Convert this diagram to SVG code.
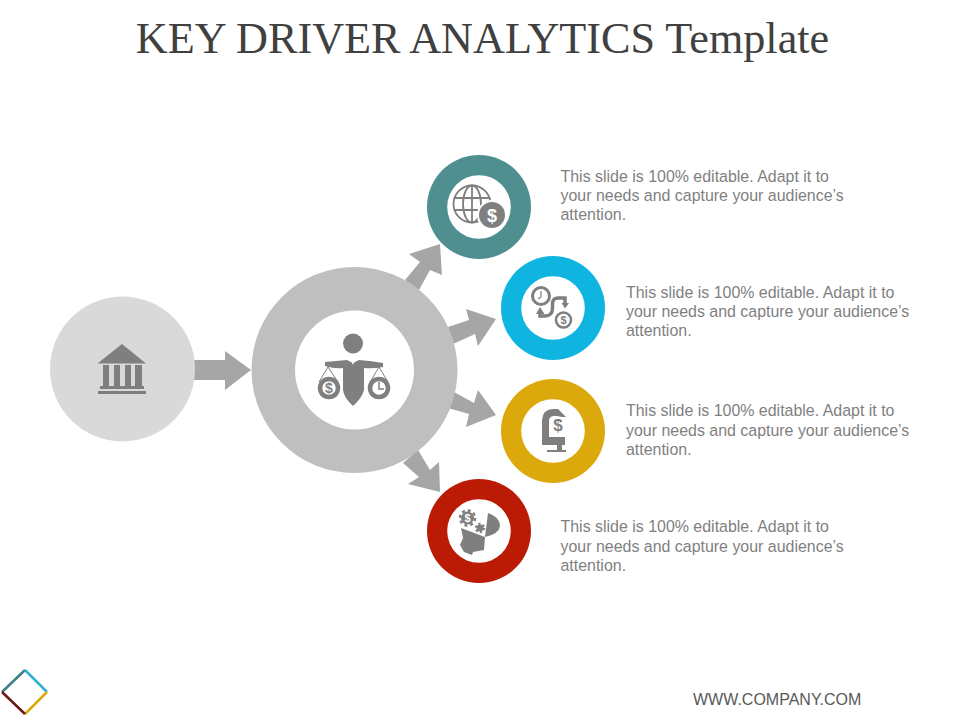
<svg xmlns="http://www.w3.org/2000/svg" width="960" height="720" viewBox="0 0 960 720">
<style>
.t{font-family:"Liberation Sans",Arial,sans-serif;font-size:15.95px;fill:#7f7f7f}
.i{fill:#7f7f7f}
.l{fill:none;stroke:#7f7f7f}
.a{fill:#a6a6a6}
.d{font-family:"Liberation Sans",Arial,sans-serif;font-weight:700;text-anchor:middle}
</style>
<rect width="960" height="720" fill="#fff"/>
<text x="482.500" y="53" text-anchor="middle" font-family="'Liberation Serif','Times New Roman',serif" font-size="44.200" fill="#404040">KEY DRIVER ANALYTICS Template</text>
<g id="connectors">
<path class="a" d="M194 360H225V351L251 370L225 390V380H194Z"/>
<path class="a" d="M405 280L420 262L409 254L440 244L442 275L430 270L419 290Z"/>
<path class="a" d="M448 327L469 320L466 309L496 319L478 346L475 334L453 344Z"/>
<path class="a" d="M454 392L474 403L478 390L496 415L466 427L469 414L448 408Z"/>
<path class="a" d="M418 450L430 470L439 462L440 492L408 484L419 477L403 463Z"/>
</g>
<g id="node-bank">
<circle cx="122.500" cy="369" r="72.500" fill="#d9d9d9"/>
<path class="i" d="M122 344L146 363.500H97.500Z"/>
<path class="i" d="M103 365H109V386H103ZM114 365H120V386H114ZM125 365H131V386H125ZM135 365H142V386H135Z"/>
<rect class="i" x="100" y="386" width="44" height="3"/>
<rect class="i" x="98" y="391" width="48" height="3"/>
</g>
<g id="node-center">
<circle cx="354.500" cy="370" r="103" fill="#bfbfbf"/>
<circle cx="354.500" cy="370" r="59.500" fill="#fff"/>
<circle class="i" cx="353" cy="343.500" r="10"/>
<path class="i" d="M325 362Q336 361 347 360L353 363L359 360Q372 361 383 363V367Q373 369 364 368V390Q362 398 353 406Q344 398 343 390V368Q335 369 325 366Z"/>
<path d="M351 360L353 365L355 360Z" fill="#fff"/>
<path class="l" stroke-width="1" d="M328 367L319 382M328 367L338 382M379 367L370 382M379 367L388 382"/>
<circle cx="329" cy="388" r="9" fill="#fff" stroke="#7f7f7f" stroke-width="4.500"/>
<circle cx="379" cy="388" r="9" fill="#fff" stroke="#7f7f7f" stroke-width="4.500"/>
<path class="l" d="M321 395Q329 401 337 395M371 395Q379 401 387 395" stroke-width="2"/>
<text class="d" x="329" y="393" font-size="14" fill="#7f7f7f">$</text>
<path class="l" stroke-width="1.500" d="M379 382V389H384"/>
</g>
<g id="node-teal">
<circle cx="479" cy="207" r="52" fill="#4f8f8f"/>
<circle cx="479" cy="207" r="31.800" fill="#fff"/>
<g class="l" stroke-width="1.800">
<circle cx="472" cy="204" r="18.500"/>
<ellipse cx="472" cy="204" rx="9" ry="18.500"/>
<path d="M472 185.500V222.500M454.500 198H489.500M454.500 210H489.500"/>
</g>
<circle cx="492" cy="215" r="15" fill="#fff"/>
<circle class="i" cx="492" cy="215" r="13"/>
<text class="d" x="492" y="221.500" font-size="18" fill="#fff">$</text>
</g>
<g id="node-blue">
<circle cx="553" cy="308" r="52" fill="#0fb5e0"/>
<circle cx="553" cy="308" r="31.800" fill="#fff"/>
<circle class="l" cx="541" cy="296" r="8.500" stroke-width="3"/>
<path class="l" stroke-width="1.200" d="M541 291V297L538 299"/>
<path class="l" stroke-width="3.500" d="M540 312V316H545Q552 316 552.500 309V303Q553 298 558 298H565V304"/>
<path class="i" d="M536 314L540 307L544.500 314ZM561.500 303H569L565 308.500Z"/>
<circle class="l" cx="563.500" cy="320" r="7.500" stroke-width="2.500"/>
<text class="d" x="563.500" y="324" font-size="11" fill="#7f7f7f">$</text>
</g>
<g id="node-yellow">
<circle cx="553" cy="431" r="52" fill="#dba90b"/>
<circle cx="553" cy="431" r="31.800" fill="#fff"/>
<path class="i" d="M542 445V420Q543 409 553 409H558L566 417H562L557 416H553Q549 417 549 421V437H565V445H562V450H557V445Z"/>
<rect class="i" x="547" y="450" width="19" height="2"/>
<text class="d" x="558" y="431" font-size="17" fill="#7f7f7f">$</text>
</g>
<g id="node-red">
<circle cx="479" cy="531" r="52" fill="#bb1a04"/>
<circle cx="479" cy="531" r="31.800" fill="#fff"/>
<circle class="i" cx="467.500" cy="518" r="6.500"/>
<circle class="l" cx="467.500" cy="518" r="7.500" stroke-width="2.500" stroke-dasharray="3 2.900"/>
<circle class="i" cx="480" cy="528" r="3.500"/>
<circle class="l" cx="480" cy="528" r="4.200" stroke-width="2" stroke-dasharray="2.200 2.200"/>
<path class="i" d="M488 513Q500 517 500 526Q499 534 485 537Z"/>
<path class="i" d="M461 528L485 537L484 550L473 552L472 555L464 552L460 545L463 538Z"/>
<text class="d" x="467.500" y="522" font-size="11" fill="#fff">$</text>
</g>
<g id="text-1"><text class="t" x="560.500" y="182">This slide is 100% editable. Adapt it to</text><text class="t" x="560.500" y="201">your needs and capture your audience’s</text><text class="t" x="560.500" y="220">attention.</text></g>
<g id="text-2"><text class="t" x="626" y="298">This slide is 100% editable. Adapt it to</text><text class="t" x="626" y="317">your needs and capture your audience’s</text><text class="t" x="626" y="336">attention.</text></g>
<g id="text-3"><text class="t" x="626" y="416">This slide is 100% editable. Adapt it to</text><text class="t" x="626" y="436">your needs and capture your audience’s</text><text class="t" x="626" y="455">attention.</text></g>
<g id="text-4"><text class="t" x="560.500" y="532">This slide is 100% editable. Adapt it to</text><text class="t" x="560.500" y="552">your needs and capture your audience’s</text><text class="t" x="560.500" y="571">attention.</text></g>
<text x="693" y="705" font-family="'Liberation Sans',sans-serif" font-size="16" fill="#595959">WWW.COMPANY.COM</text>
<g id="logo" fill="none" stroke-width="2.500">
<path d="M2 692L25 670" stroke="#3f7f86"/><path d="M25 670L47 692" stroke="#2fb0d0"/><path d="M47 692L25 714" stroke="#d9a90f"/><path d="M25 714L2 692" stroke="#6b1a1a"/>
</g>
</svg>
